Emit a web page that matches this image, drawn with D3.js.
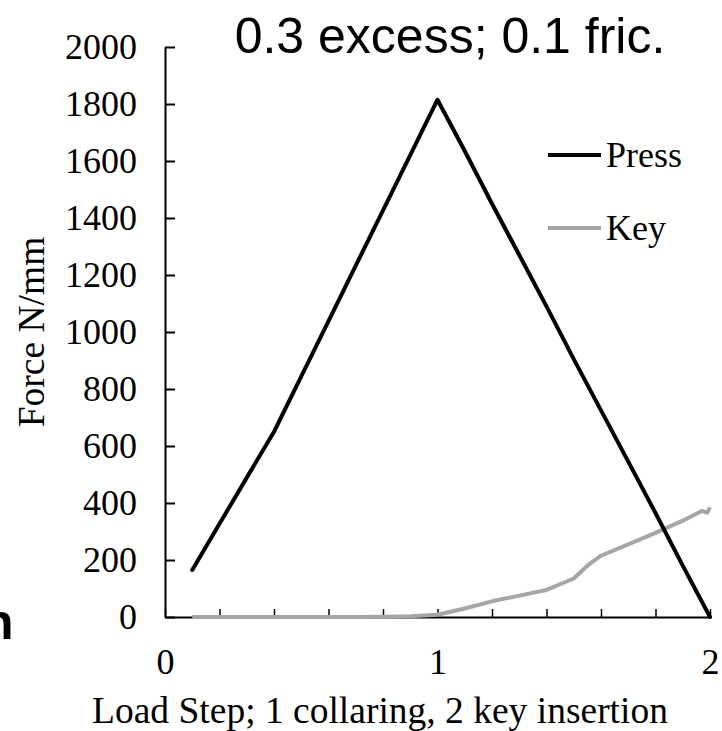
<!DOCTYPE html>
<html>
<head>
<meta charset="utf-8">
<script src="https://cdnjs.cloudflare.com/ajax/libs/d3/7.8.5/d3.min.js"></script>
<style>
  body { margin: 0; background: #fff; }
  svg { display: block; }
  .axis text { font-family: "Liberation Serif", "Times New Roman", serif; font-size: 36px; fill: #000; }
</style>
</head>
<body>
<div id="chart"></div>
<script>
// load steps (0.1 .. 2.0) and force values
var pressSteps = [0.1, 0.2, 0.3, 0.4, 0.5, 0.6, 0.7, 0.8, 0.9, 1.0,
                  1.1, 1.2, 1.3, 1.4, 1.5, 1.6, 1.7, 1.8, 1.9, 2.0],
    pressForce = [165, 327, 489, 650, 844, 1038, 1233, 1427, 1621, 1815,
                  1635, 1450, 1270, 1090, 905, 725, 545, 365, 180, 0];

var keySteps = [0.1, 0.2, 0.3, 0.4, 0.5, 0.6, 0.7, 0.8, 0.9, 1.0,
                1.1, 1.2, 1.3, 1.4, 1.5, 1.55, 1.6, 1.7, 1.8, 1.9, 1.97, 1.99, 2.0],
    keyForce = [0, 0, 0, 0, 0, 0, 0, 1, 3, 8,
                30, 55, 75, 95, 135, 180, 215, 255, 295, 338, 372, 366, 385];

var yTicks = [0, 200, 400, 600, 800, 1000, 1200, 1400, 1600, 1800, 2000],
    xLabels = [0, 1, 2],
    xTicks = [0, 0.2, 0.4, 0.6, 0.8, 1, 1.2, 1.4, 1.6, 1.8, 2];

var seriesNames = ["Press", "Key"],
    seriesColors = ["#000000", "#a6a6a6"];

var width = 722, height = 731;

var x = d3.scaleLinear().domain([0, 2]).range([165, 710]);
var y = d3.scaleLinear().domain([0, 2000]).range([617, 47]);

var svg = d3.select("#chart").append("svg")
    .attr("width", width)
    .attr("height", height);

// y axis, ticks pointing inward
svg.append("g")
    .attr("class", "axis axis-y")
    .attr("transform", "translate(" + x(0) + ",0)")
    .call(d3.axisRight(y).tickValues(yTicks).tickSize(10).tickSizeOuter(0).tickFormat(d3.format("d")))
    .call(function(g) {
      g.select(".domain").attr("stroke-width", 2);
      g.selectAll(".tick line").attr("stroke-width", 2);
      g.selectAll(".tick text").attr("x", -28).attr("text-anchor", "end").attr("dy", "0.33em");
    });

// x axis, small ticks up, labels only at 0, 1, 2
svg.append("g")
    .attr("class", "axis axis-x")
    .attr("transform", "translate(0," + y(0) + ")")
    .call(d3.axisTop(x).tickValues(xTicks).tickSize(8).tickSizeOuter(0)
      .tickFormat(function(d) { return xLabels.indexOf(d) >= 0 ? d : ""; }))
    .call(function(g) {
      g.select(".domain").attr("stroke-width", 2);
      g.selectAll(".tick line").attr("stroke-width", 1.5);
      g.selectAll(".tick text").attr("y", 57).attr("dy", 0);
    });

var line = d3.line()
    .x(function(d) { return x(d[0]); })
    .y(function(d) { return y(d[1]); });

var pressData = d3.zip(pressSteps, pressForce),
    keyData = d3.zip(keySteps, keyForce);

svg.append("path")
    .datum(keyData)
    .attr("fill", "none")
    .attr("stroke", seriesColors[1])
    .attr("stroke-width", 4)
    .attr("stroke-linejoin", "round")
    .attr("d", line);

svg.append("path")
    .datum(pressData)
    .attr("fill", "none")
    .attr("stroke", seriesColors[0])
    .attr("stroke-width", 4)
    .attr("stroke-linejoin", "round")
    .attr("stroke-linecap", "round")
    .attr("d", line);

// legend
var legend = svg.selectAll(".legend")
    .data(seriesNames)
  .enter().append("g")
    .attr("class", "legend")
    .attr("transform", function(d, i) { return "translate(548," + (155 + i * 73) + ")"; });

legend.append("line")
    .attr("x1", 0).attr("x2", 53)
    .attr("stroke", function(d, i) { return seriesColors[i]; })
    .attr("stroke-width", 4);

legend.append("text")
    .attr("x", 58)
    .attr("dy", "0.33em")
    .style("font-family", "'Liberation Serif', serif")
    .style("font-size", "36px")
    .text(function(d) { return d; });

// titles
svg.append("text")
    .attr("x", 450).attr("y", 53)
    .attr("text-anchor", "middle")
    .style("font-family", "'Liberation Sans', Arial, sans-serif")
    .style("font-size", "50px")
    .text("0.3 excess; 0.1 fric.");

svg.append("text")
    .attr("x", 380).attr("y", 723)
    .attr("text-anchor", "middle")
    .style("font-family", "'Liberation Serif', serif")
    .style("font-size", "37.5px")
    .text("Load Step; 1 collaring, 2 key insertion");

svg.append("text")
    .attr("transform", "translate(44,332) rotate(-90)")
    .attr("text-anchor", "middle")
    .style("font-family", "'Liberation Serif', serif")
    .style("font-size", "37.5px")
    .text("Force N/mm");

// cut-off letter from the neighbouring figure at the left edge
svg.append("text")
    .attr("x", -17).attr("y", 639)
    .style("font-family", "'Liberation Sans', Arial, sans-serif")
    .style("font-weight", "bold")
    .style("font-size", "50px")
    .text("n");
</script>
</body>
</html>
